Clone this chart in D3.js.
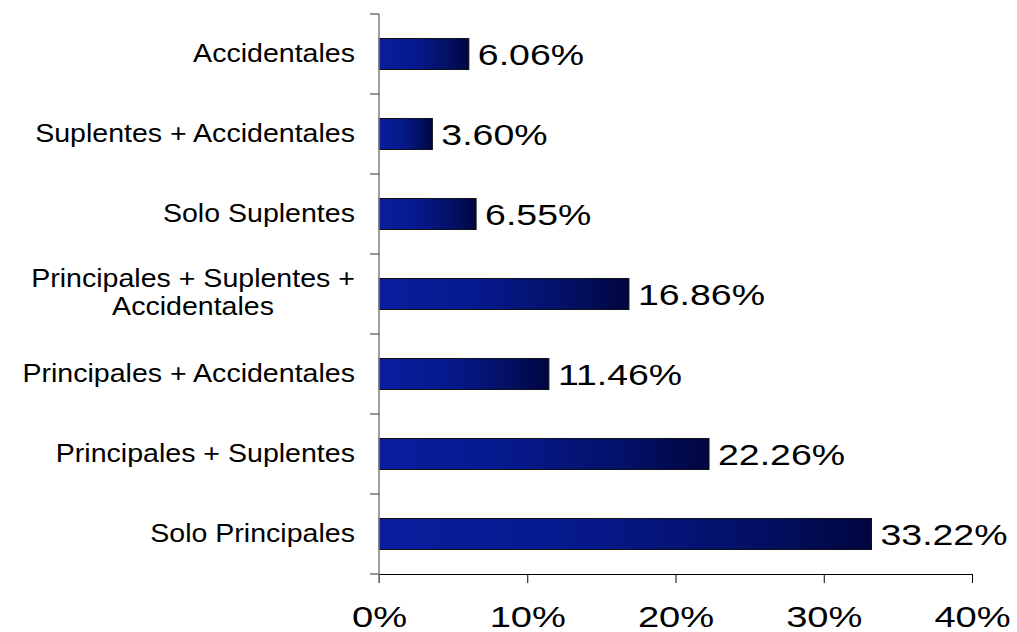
<!DOCTYPE html>
<html>
<head>
<meta charset="utf-8">
<script src="https://cdn.jsdelivr.net/npm/d3@7"></script>
<style>
  html, body { margin: 0; padding: 0; background: #fff; }
  svg { display: block; }
  text { font-family: "Liberation Sans", Arial, sans-serif; fill: #000; }
</style>
</head>
<body>
<svg id="chart" width="1017" height="632"></svg>
<script>
const categories = [
  ["Accidentales"],
  ["Suplentes + Accidentales"],
  ["Solo Suplentes"],
  ["Principales + Suplentes +", "Accidentales"],
  ["Principales + Accidentales"],
  ["Principales + Suplentes"],
  ["Solo Principales"]
];
const values = [6.06, 3.60, 6.55, 16.86, 11.46, 22.26, 33.22];
const xTicks = [0, 10, 20, 30, 40];

(function () {
const svg = d3.select("#chart");
const mLeft = 379, mRight = 972, mTop = 14, mBottom = 574;
const SX_NUM = 1.27;
const SX_CAT = 1.12;

const keys = categories.map(c => c.join(" "));
const data = keys.map((k, i) => ({ key: k, lines: categories[i], value: values[i] }));

const x = d3.scaleLinear().domain([0, 40]).range([mLeft, mRight]);
const y = d3.scaleBand().domain(keys).range([mTop, mBottom])
  .paddingInner(0.6125).paddingOuter(0.30625);

const defs = svg.append("defs");
const grad = defs.append("linearGradient").attr("id", "barGrad")
  .attr("x1", "0%").attr("x2", "100%").attr("y1", "0%").attr("y2", "0%");
grad.append("stop").attr("offset", "0%").attr("stop-color", "#0a1d9e");
grad.append("stop").attr("offset", "40%").attr("stop-color", "#06198c");
grad.append("stop").attr("offset", "75%").attr("stop-color", "#031066");
grad.append("stop").attr("offset", "100%").attr("stop-color", "#010640");

// bars
svg.append("g").selectAll("rect").data(data).join("rect")
  .attr("x", x(0))
  .attr("y", d => y(d.key))
  .attr("width", d => x(d.value) - x(0))
  .attr("height", y.bandwidth())
  .attr("fill", "url(#barGrad)")
  .attr("stroke", "#111")
  .attr("stroke-width", 1);

// value labels
svg.append("g").selectAll("text").data(data).join("text")
  .attr("transform", d => `translate(${x(d.value) + 9},${y(d.key) + y.bandwidth() / 2 + 10.5}) scale(${SX_NUM},1)`)
  .attr("font-size", 29.5)
  .text(d => d.value.toFixed(2) + "%");

// x axis
const xAxis = svg.append("g")
  .attr("transform", `translate(0,${mBottom})`)
  .call(d3.axisBottom(x).tickValues(xTicks).tickFormat(d => d + "%").tickSize(9).tickSizeOuter(0));
xAxis.select(".domain").attr("stroke", "#000");
xAxis.selectAll(".tick line").attr("stroke", "#000");
xAxis.selectAll(".tick text")
  .attr("font-size", 30)
  .attr("font-family", "Liberation Sans, Arial, sans-serif")
  .attr("fill", "#000")
  .attr("y", 53).attr("dy", 0)
  .attr("transform", `scale(${SX_NUM},1)`);

// y axis (ticks at band boundaries)
const step = y.step();
const bounds = keys.map(k => y(k) - (step - y.bandwidth()) / 2);
bounds.push(mBottom);
const yAxis = svg.append("g");
yAxis.append("line")
  .attr("x1", mLeft).attr("x2", mLeft)
  .attr("y1", mTop).attr("y2", mBottom + 9)
  .attr("stroke", "#808080").attr("stroke-width", 1.5);
yAxis.selectAll("line.tk").data(bounds).join("line").attr("class", "tk")
  .attr("x1", mLeft - 9).attr("x2", mLeft)
  .attr("y1", d => d).attr("y2", d => d)
  .attr("stroke", "#333").attr("stroke-width", 1);

// category labels
const LH = 28;
const lab = svg.append("g").selectAll("text").data(data).join("text")
  .attr("font-size", 25.5)
  .attr("text-anchor", "middle");
lab.each(function (d) {
  const t = d3.select(this);
  d.lines.forEach((ln, i) => {
    t.append("tspan").attr("x", 0).attr("y", i * LH).text(ln);
  });
});
lab.each(function (d) {
  const t = d3.select(this);
  const w = this.getBBox().width * SX_CAT;
  const cx = mLeft - 24 - w / 2;
  const cy = y(d.key) + y.bandwidth() / 2;
  const n = d.lines.length;
  const y0 = n > 1 ? cy - 7 : cy + 8;
  t.attr("transform", `translate(${cx},${y0}) scale(${SX_CAT},1)`);
});
})();
</script>
</body>
</html>
